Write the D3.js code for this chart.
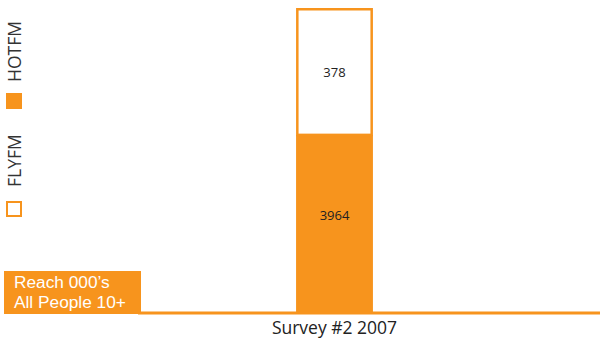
<!DOCTYPE html>
<html>
<head>
<meta charset="utf-8">
<script src="https://cdn.jsdelivr.net/npm/d3@7"></script>
<style>
  body { margin: 0; background: #fff; }
  text { font-family: "Open Sans", Lato, sans-serif; }
</style>
</head>
<body>
<div id="chart"></div>
<script>
// data
const categories = ["Survey #2 2007"];
const stations = ["HOTFM", "FLYFM"];
const reachValues = [3964, 378];   // HOTFM, FLYFM (000's)
const axisTitle = ["Reach 000\u2019s", "All People 10+"];

const width = 600;
const height = 340;
const orange = "#F7941D";

const svg = d3.select("#chart")
  .append("svg")
  .attr("width", width)
  .attr("height", height);

// the bar segments in the original are sized by log of the value
const logVals = reachValues.map(v => Math.log10(v));
const stacked = [];
let acc = 0;
logVals.forEach((lv, i) => {
  stacked.push({ name: stations[i], value: reachValues[i], y0: acc, y1: acc + lv });
  acc += lv;
});

const x = d3.scaleBand()
  .domain(categories)
  .range([140, 529])
  .padding(0.67);

const y = d3.scaleLinear()
  .domain([0, acc])
  .range([312, 8]);

const bar = svg.selectAll("g.seg")
  .data(stacked)
  .join("g")
  .attr("class", "seg");

bar.append("rect")
  .attr("x", x(categories[0]) + 1.25)
  .attr("width", x.bandwidth() - 2.5)
  .attr("y", d => y(d.y1) + 1.25)
  .attr("height", d => y(d.y0) - y(d.y1) - 1.25)
  .attr("fill", (d, i) => i === 0 ? orange : "#fff")
  .attr("stroke", orange)
  .attr("stroke-width", 2.5);

// labels sit a little off-centre in the original
bar.append("text")
  .attr("x", x(categories[0]) + x.bandwidth() / 2)
  .attr("y", (d, i) => (y(d.y0) + y(d.y1)) / 2 + (i === 0 ? -3 : 6))
  .attr("text-anchor", "middle")
  .attr("font-size", 13)
  .attr("fill", "#222")
  .text(d => d.value);

// baseline
svg.append("line")
  .attr("x1", 138)
  .attr("x2", width)
  .attr("y1", 313)
  .attr("y2", 313)
  .attr("stroke", orange)
  .attr("stroke-width", 3);

// x axis label
svg.append("text")
  .attr("x", x(categories[0]) + x.bandwidth() / 2)
  .attr("y", 334)
  .attr("text-anchor", "middle")
  .attr("font-size", 17.5)
  .attr("fill", "#222")
  .text(categories[0]);

// title box bottom-left
svg.append("rect")
  .attr("x", 4)
  .attr("y", 271)
  .attr("width", 137)
  .attr("height", 43)
  .attr("fill", orange);

svg.selectAll("text.title")
  .data(axisTitle)
  .join("text")
  .attr("class", "title")
  .attr("x", 14)
  .attr("y", (d, i) => 288.3 + i * 19.5)
  .attr("font-size", 17.3)
  .attr("fill", "#fff")
  .style("font-family", "'Liberation Sans', Arial, sans-serif")
  .text(d => d);

// legend, rotated
const legend = svg.selectAll("g.legend")
  .data(stations)
  .join("g")
  .attr("class", "legend")
  .attr("transform", (d, i) => `translate(6,${i === 0 ? 93 : 201})`);

legend.append("rect")
  .attr("x", (d, i) => i === 0 ? 0 : 1)
  .attr("y", (d, i) => i === 0 ? 0 : 1)
  .attr("width", (d, i) => i === 0 ? 16 : 14)
  .attr("height", (d, i) => i === 0 ? 16 : 14)
  .attr("fill", (d, i) => i === 0 ? orange : "#fff")
  .attr("stroke", orange)
  .attr("stroke-width", (d, i) => i === 0 ? 0 : 2);

legend.append("text")
  .attr("transform", (d, i) => `translate(15,${i === 0 ? -11 : -14}) rotate(-90)`)
  .attr("font-size", 17.5)
  .attr("fill", "#333")
  .text(d => d);
</script>
</body>
</html>
